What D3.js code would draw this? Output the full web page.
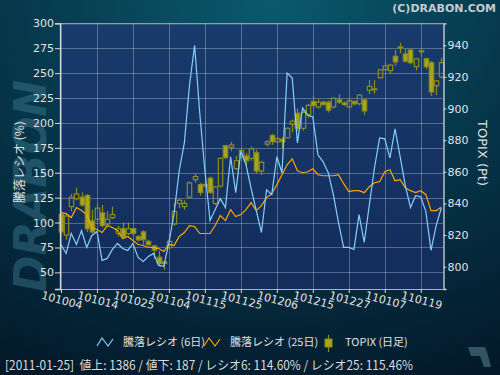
<!DOCTYPE html>
<html><head><meta charset="utf-8">
<script src="https://cdn.jsdelivr.net/npm/d3@7"></script>
<style>html,body{margin:0;padding:0;background:#041e2c;} svg{display:block}</style>
</head><body>
<svg id="c" width="500" height="375"></svg>
<script>
// ---------- data ----------
const dates = ["101004","101005","101006","101007","101008","101012","101013","101014","101015","101018","101019","101020","101021","101022","101025","101026","101027","101028","101029",
"101101","101102","101104","101105","101108","101109","101110","101111","101112","101115","101116","101117","101118","101119","101122","101124","101125","101126","101129","101130",
"101201","101202","101203","101206","101207","101208","101209","101210","101213","101214","101215","101216","101217","101220","101221","101222","101224","101227","101228","101229","101230",
"110104","110105","110106","110107","110111","110112","110113","110114","110117","110118","110119","110120","110121","110124","110125"];
const tickLabels = ["101004","101014","101025","101104","101115","101125","101206","101215","101227","110107","110119"];
const ratio6 = [78,69,89,78,92,75,87,91,62,64,73,79,74,72,79,65,61,66,69,57,56,80,109,152,180,238,278,210,152,102,
113,124,115,166,130,172,158,134,112,90,133,128,166,150,250,245,180,215,208,206,168,161,150,128,100,75,75,73,108,80,
118,155,185,184,165,194,166,137,115,127,126,111,72,97,114.6];
const ratio25 = [110,109,105,115,112,108,95,93,90,97,95,92,84,86,82,78,77,75,75,74,71,78,77,86,90,97,96,89,89,89,
97,107,102,113,106,108,113,120,112,117,125,129,138,148,158,164,152,150,151,154,148,147,147,147,148,139,131,132,132,130,
136,140,141,151,153,142,143,135,132,130,132,128,112,112,115.46];
const topixOpen  = [833,820,838,843,844,845,829,830,834,827,831,821,824,821,824,819,822,816,813,806,803,812,827,840,838,844,855,852,852,856,
840,851,876.5,875.5,862,869.5,870,868.5,872,860.5,877.5,883,879,880.5,881.5,890,897,887.5,896,904.5,901,904,904,901,905.5,903.5,901,904.5,903,905.5,
911.5,912,919.5,924.5,924,933,938.5,934.5,937,926.5,936.5,931.5,929,914.5,920];
const topixHigh  = [835,834,846,850,847,846,836,840,839,835,838,826,828,828,825,820,823,817,814,810,804,821,840,843,842,854,859,853,856,857,
851,869,877,879,870,874,872,876,874,867,880,884,882,882,888,893,900,899,903,908,906,905,905,907,909,904.5,906,905,909,906,
918,918,925,929,928,937,941.5,938,938,932,937,932,930,918,932];
const topixLow   = [820,817,835,842,838,822,821,828,825,826,830,819,818,820,819,816,814,813,805,801,798,811,826,837,836,843,853,845,850,846,
839,850,868,873,861,868,864,867,859,858,876,877,878,875,881,885,886,886,894,900,900,902,897.5,900,903,901.5,900,902,902,896,
909,909.5,919,924,922,927,935,929,928,924,933,925,908,908.5,919];
const topixClose = [822,832,844,846,839,824,822,837,826,830,833,824,819,824,821,817,817,814,810.5,802,802,816,835,842,840,853,857,847,851,847,
850.5,868.5,869,877,867,873.5,867,874.5,860.5,866,879,879,881,879,887.5,892,887.5,897.5,902,902,904,902.5,899,906.5,904,902.5,905,903,908.5,898.5,
914,912.5,924.5,927,927.5,929.5,939,930,929,931.5,936,926.5,910.5,917.5,929];
const leftTicks = [50,75,100,125,150,175,200,225,250,275,300];
const rightTicks = [800,820,840,860,880,900,920,940];
const legendLabels = ["騰落レシオ (6日)","騰落レシオ (25日)","TOPIX (日足)"];
const infoText = "[2011-01-25]  値上: 1386 / 値下: 187 / レシオ6: 114.60% / レシオ25: 115.46%";

// ---------- layout ----------
const svg = d3.select("#c");
const P = {l:60, r:443.5, t:23.3, b:289};
const FONT = "'DejaVu Sans', Verdana, sans-serif";
const CJK = "'Noto Sans CJK JP', 'DejaVu Sans', sans-serif";

const x = d3.scalePoint().domain(dates).range([61, 441.3]);
const yL = d3.scaleLinear().domain([33.3, 300]).range([P.b, P.t]);
const yR = d3.scaleLinear().domain([785.9, 953.9]).range([P.b, P.t]);

const defs = svg.append("defs");
const bg = defs.append("radialGradient").attr("id","bg").attr("cx","0.5").attr("cy","0").attr("r","1.1").attr("fx","0.55").attr("fy","0");
bg.append("stop").attr("offset","0").attr("stop-color","#0a5a6d");
bg.append("stop").attr("offset","0.45").attr("stop-color","#06384c");
bg.append("stop").attr("offset","1").attr("stop-color","#03192a");
const pg = defs.append("linearGradient").attr("id","pg").attr("x1",0).attr("y1",0).attr("x2",0).attr("y2",1);
pg.append("stop").attr("offset","0").attr("stop-color","#173b6c");
pg.append("stop").attr("offset","1").attr("stop-color","#132c5b");

svg.append("rect").attr("width",500).attr("height",375).attr("fill","url(#bg)");

// watermark
svg.append("text").attr("transform","translate(46,186) rotate(-90)")
  .attr("text-anchor","middle").attr("font-family",FONT).attr("font-weight","bold").attr("font-style","italic")
  .attr("font-size",44).attr("fill","#4a8aa0").attr("opacity",0.38).text("DRABON");

// copyright
svg.append("text").attr("x",496).attr("y",12).attr("text-anchor","end").attr("font-family",FONT)
  .attr("font-weight","bold").attr("font-size",11).attr("fill","#c4ccd0").text("(C)DRABON.COM");

// plot area
svg.append("rect").attr("x",P.l).attr("y",P.t).attr("width",P.r-P.l).attr("height",P.b-P.t).attr("fill","url(#pg)");

// grid
const grid = svg.append("g").attr("stroke","#ffffff").attr("stroke-opacity",0.28).attr("stroke-width",1);
grid.selectAll("line.h").data(leftTicks).join("line")
  .attr("x1",P.l).attr("x2",P.r).attr("y1",d=>Math.round(yL(d))+0.5).attr("y2",d=>Math.round(yL(d))+0.5);
grid.selectAll("line.v").data(tickLabels).join("line")
  .attr("y1",P.t).attr("y2",P.b).attr("x1",d=>Math.round(x(d))+0.5).attr("x2",d=>Math.round(x(d))+0.5);

// candles
const candles = dates.map((d,i)=>({d, o:topixOpen[i], h:topixHigh[i], l:topixLow[i], c:topixClose[i]}));
const cg = svg.append("g");
const cw = 4.4;
const cstroke = "#8c8c18", cfill = "#a5a51e";
candles.forEach(k=>{
  const cx = Math.round(x(k.d))+0.5;
  const top = yR(Math.max(k.o,k.c)), bot = yR(Math.min(k.o,k.c));
  cg.append("line").attr("x1",cx).attr("x2",cx).attr("y1",yR(k.h)).attr("y2",top).attr("stroke",cstroke).attr("stroke-width",1.2);
  cg.append("line").attr("x1",cx).attr("x2",cx).attr("y1",bot).attr("y2",yR(k.l)).attr("stroke",cstroke).attr("stroke-width",1.2);
  cg.append("rect").attr("x",cx-cw/2).attr("y",top).attr("width",cw).attr("height",Math.max(1,bot-top))
    .attr("fill",k.c<k.o?cfill:"none").attr("stroke",cstroke).attr("stroke-width",1.2);
});

// lines
const ln = d3.line().x((d,i)=>x(dates[i])).y(d=>yL(d));
svg.append("path").attr("d",ln(ratio25)).attr("fill","none").attr("stroke","#ffa500").attr("stroke-width",1.2);
svg.append("path").attr("d",ln(ratio6)).attr("fill","none").attr("stroke","#87cefa").attr("stroke-width",1.2);

// axes
const axCol = "#d8d8d8";
const gl = svg.append("g").attr("transform",`translate(${P.l},0)`)
  .call(d3.axisLeft(yL).tickValues(leftTicks).tickSize(5).tickPadding(1));
const gr = svg.append("g").attr("transform",`translate(${P.r},0)`)
  .call(d3.axisRight(yR).tickValues(rightTicks).tickSize(3).tickPadding(1));
const gb = svg.append("g").attr("transform",`translate(0,${P.b})`)
  .call(d3.axisBottom(x).tickValues(tickLabels).tickSize(4).tickFormat(""));
[gl,gr,gb].forEach(g=>{
  g.selectAll("path").attr("stroke",axCol).attr("stroke-width",1.3);
  g.selectAll("line").attr("stroke",axCol);
  g.selectAll("text").attr("fill","#e2e2e2").attr("font-family",FONT).attr("font-size",11);
});
gb.select("path.domain").remove();
svg.append("line").attr("x1",P.l).attr("x2",P.r).attr("y1",P.b+0.5).attr("y2",P.b+0.5).attr("stroke",axCol).attr("stroke-opacity",0.8);
svg.append("line").attr("x1",P.l).attr("x2",P.r).attr("y1",P.t+0.5).attr("y2",P.t+0.5).attr("stroke",axCol).attr("stroke-opacity",0.6);

// x labels rotated
svg.append("g").selectAll("text").data(tickLabels).join("text")
  .attr("transform",d=>`translate(${x(d)},${P.b+15}) rotate(15)`)
  .attr("text-anchor","middle").attr("font-family",FONT).attr("font-size",11).attr("fill","#e2e2e2")
  .text(d=>d);

// axis titles
svg.append("text").attr("transform","translate(24,162) rotate(-90)").attr("text-anchor","middle")
  .attr("font-family",CJK).attr("font-size",12).attr("fill","#e0e0e0").text("騰落レシオ (%)");
svg.append("text").attr("transform","translate(478,153) rotate(90)").attr("text-anchor","middle")
  .attr("font-family",FONT).attr("font-size",13).attr("fill","#e0e0e0").text("TOPIX (Pt)");

// legend
const lg = svg.append("g");
const zz = d3.line();
lg.append("path").attr("d",zz([[97,346],[102,338],[108,346],[113,339]])).attr("fill","none").attr("stroke","#87cefa").attr("stroke-width",1.2);
lg.append("path").attr("d",zz([[204,346],[209,338],[215,346],[220,339]])).attr("fill","none").attr("stroke","#ffa500").attr("stroke-width",1.2);
lg.append("line").attr("x1",328.5).attr("x2",328.5).attr("y1",335).attr("y2",352).attr("stroke",cstroke).attr("stroke-width",1.2);
lg.append("rect").attr("x",325).attr("y",339).attr("width",7).attr("height",8).attr("fill",cfill).attr("stroke",cstroke);
const lx = [123,230,345];
lg.selectAll("text").data(legendLabels).join("text")
  .attr("x",(d,i)=>lx[i]).attr("y",346).attr("font-family",CJK).attr("font-size",11).attr("fill","#e0e0e0").text(d=>d);

// info
svg.append("text").attr("x",5).attr("y",370).attr("font-family",CJK).attr("font-size",12.5).attr("fill","#dcdcdc")
  .attr("xml:space","preserve").attr("textLength",408).attr("lengthAdjust","spacingAndGlyphs").text(infoText);

// logo
svg.append("path").attr("d","M468,347 L485,347 L487,352 L491,367 L484,367 L480,356 L471,356 Z")
  .attr("fill","#3e6474").attr("opacity",0.8);
</script>
</body></html>
